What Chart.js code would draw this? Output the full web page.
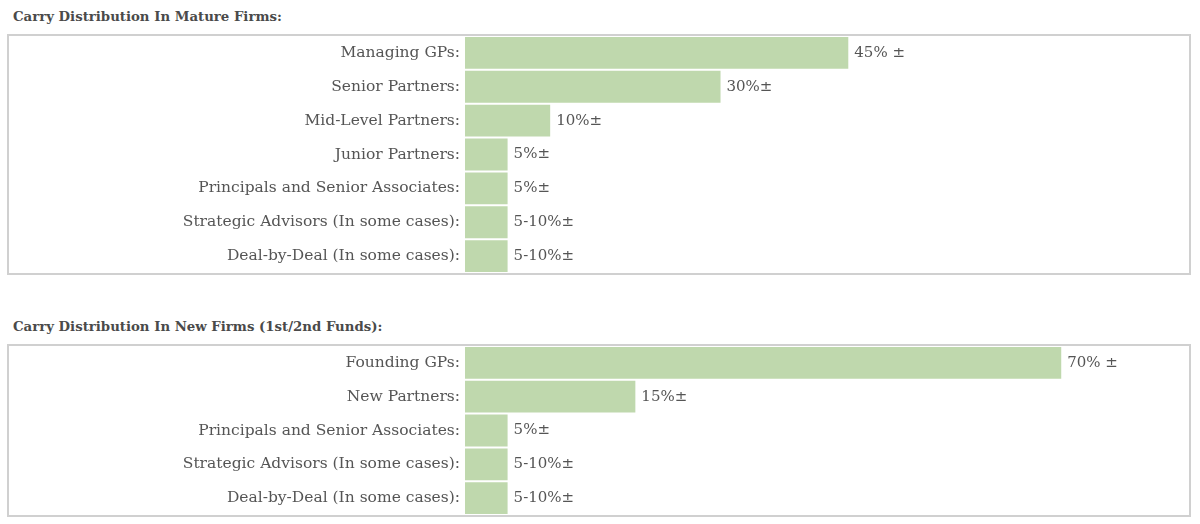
<!DOCTYPE html>
<html>
<head>
<meta charset="utf-8">
<script src="https://cdn.jsdelivr.net/npm/chart.js@4"></script>
<style>
  body { margin: 0; background: #fff; width: 1200px; height: 524px; position: relative; overflow: hidden; }
  .title { position: absolute; left: 13px; font: bold 13.3px "DejaVu Serif", serif; color: #4a4a4a; }
  .box { position: absolute; left: 7px; width: 1180px; border: 2px solid #d0d0d0; }
  .box canvas { display: block; }
</style>
</head>
<body>
<div class="title" style="top: 9px;">Carry Distribution In Mature Firms:</div>
<div class="box" style="top: 34px; height: 237px;"><canvas id="mature"></canvas></div>
<div class="title" style="top: 319px;">Carry Distribution In New Firms (1st/2nd Funds):</div>
<div class="box" style="top: 344px; height: 169px;"><canvas id="newFirms"></canvas></div>
<script>
// Mature firms
const matureRoles = ['Managing GPs:', 'Senior Partners:', 'Mid-Level Partners:', 'Junior Partners:',
  'Principals and Senior Associates:', 'Strategic Advisors (In some cases):', 'Deal-by-Deal (In some cases):'];
const matureShares = [45, 30, 10, 5, 5, 5, 5];
const matureText = ['45% \u00b1', '30%\u00b1', '10%\u00b1', '5%\u00b1', '5%\u00b1', '5-10%\u00b1', '5-10%\u00b1'];

// New firms (1st/2nd funds)
const newRoles = ['Founding GPs:', 'New Partners:', 'Principals and Senior Associates:',
  'Strategic Advisors (In some cases):', 'Deal-by-Deal (In some cases):'];
const newShares = [70, 20, 5, 5, 5];
const newText = ['70% \u00b1', '15%\u00b1', '5%\u00b1', '5-10%\u00b1', '5-10%\u00b1'];

const barColor = '#bfd8ad';
const textColor = '#555';
const font = { family: '"DejaVu Serif", serif', size: 15.5 };

const valueLabels = {
    id: 'valueLabels',
    afterDatasetsDraw(chart, args, opts) {
        const ctx = chart.ctx;
        const meta = chart.getDatasetMeta(0);
        ctx.save();
        ctx.font = `15px ${font.family}`;
        ctx.fillStyle = textColor;
        ctx.textBaseline = 'middle';
        meta.data.forEach((bar, i) => {
            ctx.fillText(opts.texts[i], bar.x + 6, bar.y);
        });
        ctx.restore();
    }
};

function makeChart(id, roles, shares, texts) {
    const ctx = document.getElementById(id).getContext('2d');
    return new Chart(ctx, {
        type: 'bar',
        data: {
            labels: roles,
            datasets: [{
                data: shares,
                backgroundColor: barColor,
                barPercentage: 0.94,
                categoryPercentage: 1
            }]
        },
        options: {
            indexAxis: 'y',
            responsive: true,
            maintainAspectRatio: false,
            animation: false,
            layout: { padding: 0, autoPadding: false },
            plugins: {
                legend: { display: false },
                tooltip: { enabled: false },
                valueLabels: { texts: texts }
            },
            scales: {
                x: { display: false, min: 0, max: 85 },
                y: {
                    grid: { display: false, drawTicks: false },
                    border: { display: false },
                    ticks: { color: textColor, font: font, padding: 5, autoSkip: false },
                    afterFit(scale) {
                        scale.width = 456;
                        scale.paddingTop = 0;
                        scale.paddingBottom = 0;
                    }
                }
            }
        },
        plugins: [valueLabels]
    });
}

makeChart('mature', matureRoles, matureShares, matureText);
makeChart('newFirms', newRoles, newShares, newText);
</script>
</body>
</html>
